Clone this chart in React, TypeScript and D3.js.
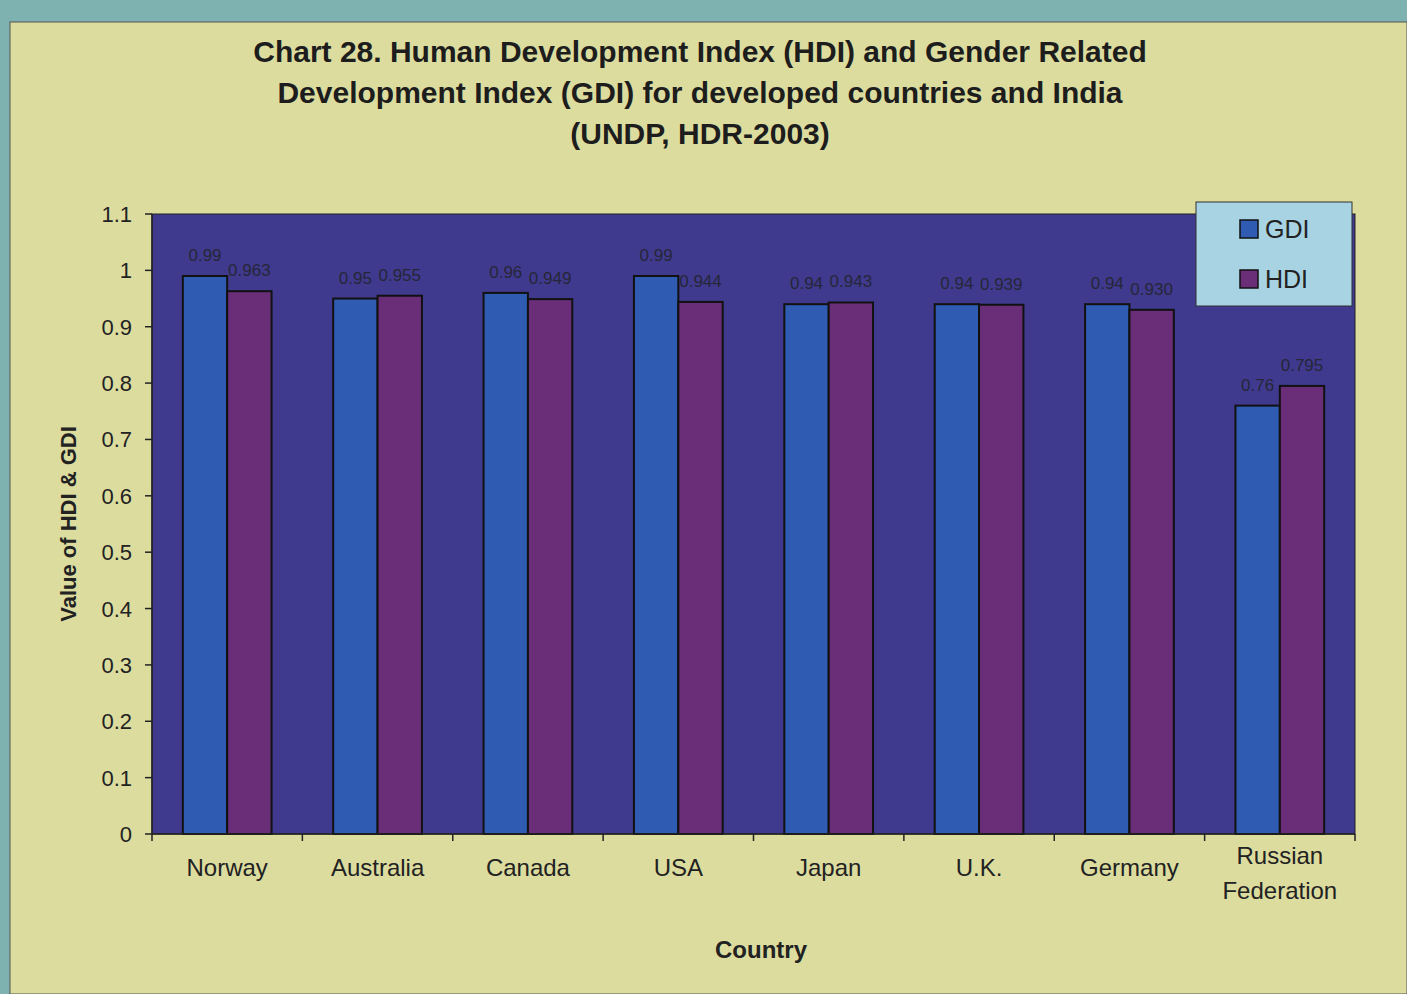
import React from "react";
import * as d3 from "d3";

const categories = ["Norway", "Australia", "Canada", "USA", "Japan", "U.K.", "Germany", "Russian Federation"];
const seriesNames = ["GDI", "HDI"];
const gdiValues = [0.99, 0.95, 0.96, 0.99, 0.94, 0.94, 0.94, 0.76];
const hdiValues = [0.963, 0.955, 0.949, 0.944, 0.943, 0.939, 0.93, 0.795];
const gdiLabels = ["0.99", "0.95", "0.96", "0.99", "0.94", "0.94", "0.94", "0.76"];
const hdiLabels = ["0.963", "0.955", "0.949", "0.944", "0.943", "0.939", "0.930", "0.795"];
const yTicks = [0, 0.1, 0.2, 0.3, 0.4, 0.5, 0.6, 0.7, 0.8, 0.9, 1, 1.1];
const titleLines = [
  "Chart 28. Human Development Index (HDI) and Gender Related",
  "Development Index (GDI) for developed countries and India",
  "(UNDP, HDR-2003)",
];

const W = 1407;
const H = 994;
const plot = { left: 152, top: 214, right: 1355, bottom: 834 };
const colors = { GDI: "#2f5cb2", HDI: "#6a2e78" };
const font = "Liberation Sans, Arial, sans-serif";

export default function App() {
  const x = d3.scaleBand<string>().domain(categories).range([plot.left, plot.right]).paddingInner(0.41).paddingOuter(0.205);
  const x1 = d3.scaleBand<string>().domain(seriesNames).range([0, x.bandwidth()]);
  const y = d3.scaleLinear().domain([0, 1.1]).range([plot.bottom, plot.top]);
  const step = x.step();
  const series = [
    { name: "GDI", values: gdiValues, labels: gdiLabels },
    { name: "HDI", values: hdiValues, labels: hdiLabels },
  ];
  return (
    <div style={{ position: "absolute", left: 0, top: 0 }}>
      <svg width={W} height={H} style={{ display: "block" }}>
        <rect x={0} y={0} width={W} height={H} fill="#7eb2b0" />
        <rect x={10} y={22} width={W - 10} height={H - 22} fill="#dcdc9f" stroke="#555" strokeWidth={1} />
        {titleLines.map((t, i) => (
          <text key={i} x={700} y={62 + i * 41} textAnchor="middle" fontFamily={font} fontWeight="bold" fontSize={30} fill="#1d1d1d">
            {t}
          </text>
        ))}
        <rect x={plot.left} y={plot.top} width={plot.right - plot.left} height={plot.bottom - plot.top} fill="#3f3a8e" stroke="#222" strokeWidth={1} />
        {series.map((s) =>
          categories.map((c, i) => {
            const bx = (x(c) as number) + (x1(s.name) as number);
            const by = y(s.values[i]);
            return (
              <g key={s.name + c}>
                <rect x={bx} y={by} width={x1.bandwidth()} height={plot.bottom - by} fill={colors[s.name as "GDI" | "HDI"]} stroke="#111" strokeWidth={2} />
                <text x={bx + x1.bandwidth() / 2} y={by - 15} textAnchor="middle" fontFamily={font} fontSize={17} fill="#262638">
                  {s.labels[i]}
                </text>
              </g>
            );
          })
        )}
        {/* y axis */}
        <line x1={plot.left} x2={plot.left} y1={plot.top} y2={plot.bottom} stroke="#222" strokeWidth={1.5} />
        {yTicks.map((t) => (
          <g key={t}>
            <line x1={plot.left - 7} x2={plot.left} y1={y(t)} y2={y(t)} stroke="#222" strokeWidth={1.5} />
            <text x={plot.left - 20} y={y(t) + 8} textAnchor="end" fontFamily={font} fontSize={22} fill="#222">
              {d3.format("~g")(t)}
            </text>
          </g>
        ))}
        {/* x axis */}
        <line x1={plot.left} x2={plot.right} y1={plot.bottom} y2={plot.bottom} stroke="#222" strokeWidth={1.5} />
        {d3.range(categories.length + 1).map((i) => (
          <line key={i} x1={plot.left + i * step} x2={plot.left + i * step} y1={plot.bottom} y2={plot.bottom + 7} stroke="#222" strokeWidth={1.5} />
        ))}
        {categories.map((c) => {
          const cx = (x(c) as number) + x.bandwidth() / 2;
          const words = c === "Russian Federation" ? ["Russian", "Federation"] : [c];
          return (
            <text key={c} x={cx} y={876} textAnchor="middle" fontFamily={font} fontSize={24} fill="#222">
              {words.map((w, j) => (
                <tspan key={j} x={cx} dy={j === 0 ? (words.length > 1 ? -12 : 0) : 35}>
                  {w}
                </tspan>
              ))}
            </text>
          );
        })}
        <text x={761} y={958} textAnchor="middle" fontFamily={font} fontWeight="bold" fontSize={24} fill="#222">
          Country
        </text>
        <text transform={`translate(76,${(plot.top + plot.bottom) / 2}) rotate(-90)`} textAnchor="middle" fontFamily={font} fontWeight="bold" fontSize={22} fill="#222">
          Value of HDI &amp; GDI
        </text>
        {/* legend */}
        <g>
          <rect x={1196} y={202} width={156} height={104} fill="#a7d3e3" stroke="#333" strokeWidth={1} />
          {seriesNames.map((n, i) => (
            <g key={n}>
              <rect x={1240} y={220 + i * 50} width={18} height={18} fill={colors[n as "GDI" | "HDI"]} stroke="#111" strokeWidth={1.5} />
              <text x={1265} y={238 + i * 50} fontFamily={font} fontSize={25} fill="#222">
                {n}
              </text>
            </g>
          ))}
        </g>
      </svg>
    </div>
  );
}
